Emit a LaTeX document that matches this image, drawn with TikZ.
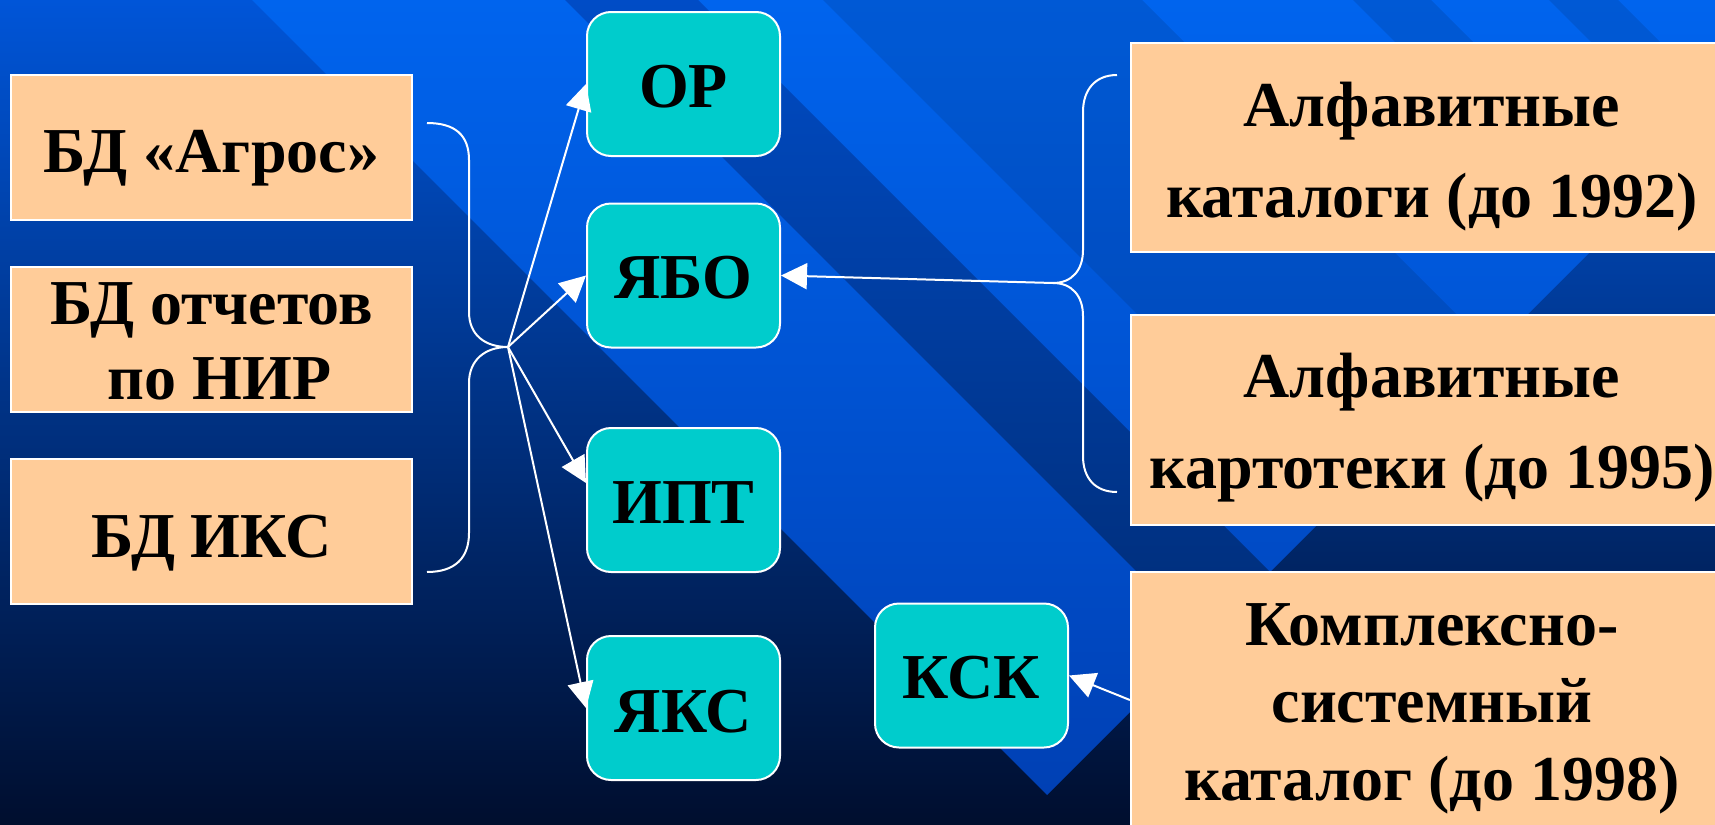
\documentclass[tikz,border=0pt]{standalone}
\usepackage{fontspec}
\setmainfont{Liberation Serif}
\usetikzlibrary{arrows.meta,calc}
\definecolor{peach}{HTML}{FFCC99}
\definecolor{cyanfill}{HTML}{00CCCC}
\definecolor{bgtop}{HTML}{0055D8}
\definecolor{bgmid}{HTML}{00389A}
\definecolor{bgbot}{HTML}{000E2E}
\definecolor{bandtop}{HTML}{0064EE}
\definecolor{bandbot}{HTML}{0040B4}
\definecolor{dtop}{HTML}{004CC6}
\definecolor{dbot}{HTML}{002D78}
\tikzset{
  peachbox/.style={draw=white, line width=1.1pt, fill=peach, inner sep=0pt},
  cyanbox/.style={draw=white, line width=1pt, fill=cyanfill, rounded corners=12pt,
    minimum width=96.5pt, minimum height=72pt, inner sep=0pt},
  txt/.style={font=\fontsize{32}{37.5}\selectfont\bfseries, text=black, inner sep=0pt, align=center},
  oneline/.style={txt, text height=21.76pt, text depth=7.04pt},
  link/.style={draw=white, line width=1pt, -{Triangle[length=13pt,width=13pt]}},
  bracestyle/.style={draw=white, line width=1pt},
  stripe/.style={fill=black, opacity=0.1}
}
\begin{document}
\begin{tikzpicture}[x=0.5pt,y=0.5pt]
\clip (0,0) rectangle (1715,-825);
% background
\shade[top color=bgtop, middle color=bgmid, bottom color=bgbot] (0,0) rectangle (1715,-825);
\shade[top color=bandtop, bottom color=bandbot] (252,0) -- (1842,0) -- (1047,-795) -- cycle;
\shade[top color=dtop, bottom color=dbot] (565,0) -- (698,0) -- (1270,-572) -- (1203.5,-638.5) -- cycle;
\fill[stripe] (823,0) -- (1142,0) -- (1492,-350) -- (1332.5,-509.5) -- cycle;
\fill[stripe] (1353,0) -- (1431,0) -- (1636.5,-205.5) -- (1597.5,-244.5) -- cycle;
\fill[stripe] (1549,0) -- (1618,0) -- (1730,-112) -- (1695.5,-146.5) -- cycle;

% braces
\coordinate (ltip) at (508,-347);
\coordinate (rtip) at (1053,-283);
\draw[bracestyle] (427,-123) .. controls (455,-123) and (469,-135) .. (469,-160)
  -- (469,-312) .. controls (469,-335) and (485,-347) .. (ltip)
  .. controls (485,-347) and (469,-360) .. (469,-383)
  -- (469,-533) .. controls (469,-558) and (455,-572) .. (427,-572);
\draw[bracestyle] (1117,-75) .. controls (1095,-75) and (1083,-90) .. (1083,-112)
  -- (1083,-250) .. controls (1083,-270) and (1072,-283) .. (rtip)
  .. controls (1072,-283) and (1083,-296) .. (1083,-316)
  -- (1083,-456) .. controls (1083,-478) and (1095,-492) .. (1117,-492);

% left boxes
\node[peachbox, minimum width=200.5pt, minimum height=72.5pt] (l1) at (211.5,-147.5) {};
\node[peachbox, minimum width=200.5pt, minimum height=72.5pt] (l2) at (211.5,-339.5) {};
\node[peachbox, minimum width=200.5pt, minimum height=72.5pt] (l3) at (211.5,-531.5) {};
\node[oneline] (l1t) at (211.5,-157.3) {БД «Агрос»};
\node[txt] (l2t) at (211.5,-341.5) {БД отчетов\\\hspace*{8pt}по НИР};
\node[oneline] (l3t) at (211.5,-542.3) {БД ИКС};

% cyan boxes
\node[cyanbox] (or) at (683.5,-84) {};
\node[cyanbox] (yabo) at (683.5,-275.5) {};
\node[cyanbox] (ipt) at (683.5,-500) {};
\node[cyanbox] (yks) at (683.5,-708) {};
\node[cyanbox] (ksk) at (971.5,-675.5) {};
\node[oneline] (ort) at (683.5,-92.3) {ОР};
\node[oneline] (yabot) at (683.5,-283.3) {ЯБО};
\node[oneline] (iptt) at (683.5,-508.3) {ИПТ};
\node[oneline] (ykst) at (683.5,-717.3) {ЯКС};
\node[oneline] (kskt) at (971.5,-683.3) {КСК};

% right boxes
\node[peachbox, minimum width=299.5pt, minimum height=104.5pt] (r1) at (1430.5,-147.5) {};
\node[peachbox, minimum width=299.5pt, minimum height=105pt] (r2) at (1430.5,-420) {};
\node[peachbox, minimum width=299.5pt, minimum height=128pt] (r3) at (1430.5,-700) {};
\node[txt, font=\fontsize{32}{45.5}\selectfont\bfseries] (r1t) at (1432,-156.5) {Алфавитные\\каталоги (до 1992)};
\node[txt, font=\fontsize{32}{45.5}\selectfont\bfseries] (r2t) at (1432,-427.5) {Алфавитные\\картотеки (до 1995)};
\node[txt, font=\fontsize{32}{38.75}\selectfont\bfseries] (r3t) at (1432,-708.5) {Комплексно-\\системный\\каталог (до 1998)};

% connectors
\draw[link] (ltip) -- (or.west);
\draw[link] (ltip) -- (yabo.west);
\draw[link] (ltip) -- ($(ipt.west)+(0,17)$);
\draw[link] (ltip) -- (yks.west);
\draw[link] (rtip) -- (yabo.east);
\draw[link] (r3.west) -- (ksk.east);
\end{tikzpicture}
\end{document}
